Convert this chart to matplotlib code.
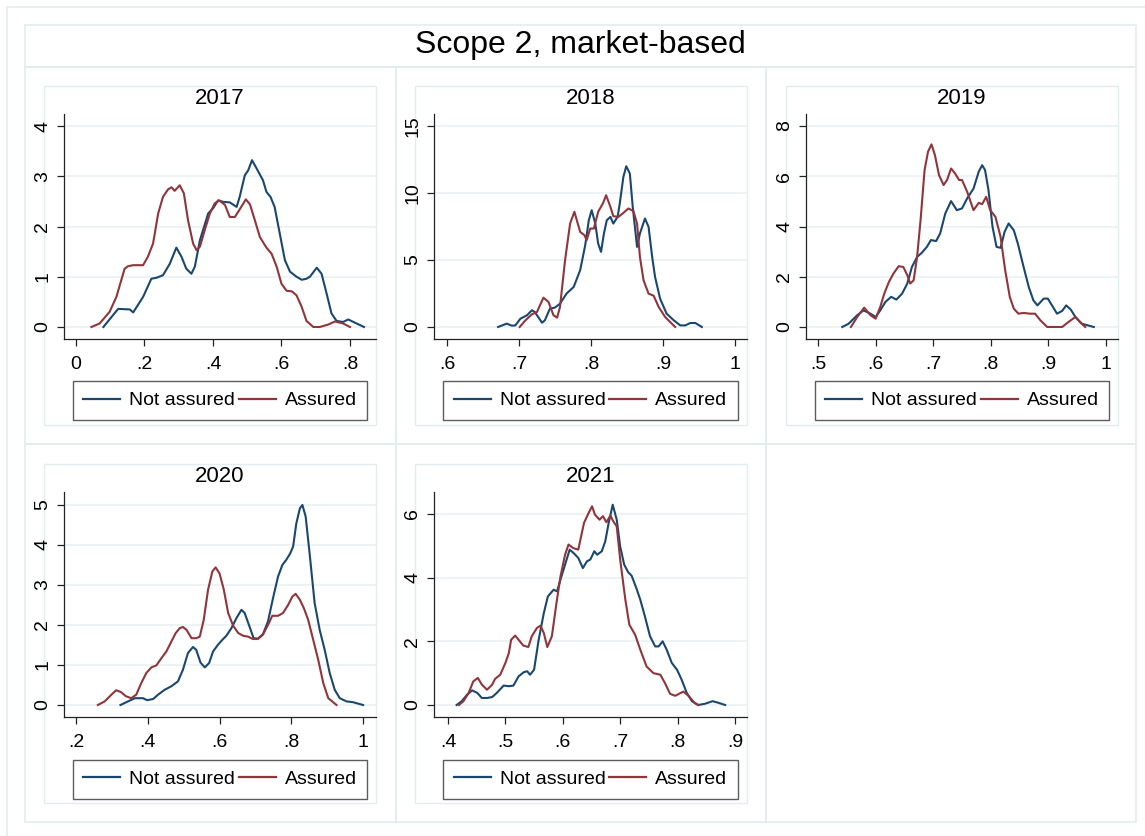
import matplotlib
matplotlib.use("Agg")
import matplotlib.pyplot as plt
from matplotlib.patches import Rectangle
from matplotlib.lines import Line2D
from matplotlib.ticker import FuncFormatter

plt.rcParams['font.family'] = ['Liberation Sans', 'DejaVu Sans']

# ---------------- data ----------------
title = "Scope 2, market-based"
years = [2017, 2018, 2019, 2020, 2021]
series_labels = ["Not assured", "Assured"]

na_2017_x = [0.080, 0.123, 0.157, 0.167, 0.196, 0.220, 0.235, 0.254, 0.274, 0.293, 0.308, 0.322, 0.337, 0.347,
             0.362, 0.386, 0.400, 0.415, 0.430, 0.449, 0.469, 0.478, 0.493, 0.503, 0.514, 0.527, 0.546, 0.556,
             0.568, 0.580, 0.595, 0.610, 0.625, 0.644, 0.659, 0.673, 0.683, 0.703, 0.717, 0.732, 0.746, 0.761,
             0.780, 0.795, 0.810, 0.841]
na_2017_y = [0.00, 0.36, 0.35, 0.29, 0.60, 0.96, 0.98, 1.03, 1.26, 1.58, 1.40, 1.16, 1.06, 1.20,
             1.73, 2.26, 2.36, 2.52, 2.49, 2.48, 2.39, 2.59, 3.02, 3.12, 3.32, 3.16, 2.92, 2.69,
             2.59, 2.39, 1.86, 1.33, 1.10, 1.00, 0.94, 0.96, 1.00, 1.18, 1.06, 0.66, 0.27, 0.12,
             0.10, 0.15, 0.10, 0.00]
as_2017_x = [0.045, 0.069, 0.098, 0.118, 0.142, 0.152, 0.167, 0.196, 0.210, 0.225, 0.240, 0.254, 0.269, 0.279,
             0.288, 0.303, 0.315, 0.327, 0.342, 0.352, 0.362, 0.376, 0.391, 0.405, 0.418, 0.435, 0.449, 0.464,
             0.478, 0.496, 0.508, 0.522, 0.537, 0.556, 0.571, 0.586, 0.600, 0.615, 0.630, 0.644, 0.659, 0.673,
             0.693, 0.712, 0.737, 0.756, 0.780, 0.800]
as_2017_y = [0.00, 0.07, 0.30, 0.60, 1.16, 1.21, 1.23, 1.23, 1.40, 1.66, 2.26, 2.59, 2.74, 2.78,
             2.71, 2.82, 2.66, 2.13, 1.66, 1.53, 1.60, 1.93, 2.26, 2.46, 2.52, 2.43, 2.19, 2.19,
             2.34, 2.54, 2.44, 2.13, 1.79, 1.58, 1.46, 1.20, 0.86, 0.72, 0.71, 0.63, 0.40, 0.12,
             0.00, 0.00, 0.05, 0.11, 0.07, 0.00]

na_2018_x = [0.671, 0.683, 0.690, 0.695, 0.702, 0.711, 0.718, 0.722, 0.732, 0.736, 0.743, 0.750, 0.757, 0.766,
             0.776, 0.785, 0.792, 0.797, 0.801, 0.806, 0.810, 0.814, 0.818, 0.822, 0.827, 0.831, 0.837, 0.840,
             0.845, 0.849, 0.854, 0.858, 0.864, 0.868, 0.875, 0.880, 0.885, 0.889, 0.896, 0.905, 0.915, 0.924,
             0.931, 0.938, 0.945, 0.954]
na_2018_y = [0.00, 0.25, 0.10, 0.12, 0.62, 0.87, 1.25, 1.12, 0.32, 0.50, 1.37, 1.45, 1.74, 2.49,
             2.99, 4.24, 6.10, 7.97, 8.72, 7.72, 6.23, 5.61, 6.98, 7.97, 8.22, 7.72, 8.22, 9.22,
             11.20, 12.00, 11.46, 8.97, 5.98, 6.98, 8.10, 7.47, 5.23, 3.74, 2.12, 1.00, 0.50, 0.12,
             0.12, 0.30, 0.30, 0.00]
as_2018_x = [0.701, 0.709, 0.718, 0.725, 0.734, 0.741, 0.748, 0.753, 0.757, 0.764, 0.771, 0.777, 0.785, 0.791,
             0.794, 0.799, 0.804, 0.810, 0.817, 0.821, 0.827, 0.831, 0.838, 0.844, 0.852, 0.859, 0.864, 0.868,
             0.873, 0.880, 0.887, 0.894, 0.903, 0.910, 0.917]
as_2018_y = [0.00, 0.50, 0.95, 1.12, 2.19, 1.87, 0.87, 0.70, 1.50, 4.98, 7.72, 8.60, 7.10, 6.85,
             6.48, 7.35, 7.35, 8.60, 9.27, 9.84, 8.97, 8.27, 8.22, 8.47, 8.85, 8.65, 7.72, 5.23,
             3.49, 2.49, 2.34, 1.50, 0.75, 0.37, 0.00]

na_2019_x = [0.542, 0.553, 0.568, 0.579, 0.591, 0.600, 0.608, 0.617, 0.627, 0.636, 0.646, 0.655, 0.663, 0.672,
             0.680, 0.689, 0.696, 0.705, 0.712, 0.721, 0.731, 0.741, 0.750, 0.759, 0.770, 0.779, 0.785, 0.790,
             0.796, 0.803, 0.810, 0.817, 0.824, 0.831, 0.840, 0.847, 0.857, 0.866, 0.874, 0.881, 0.892, 0.899,
             0.908, 0.915, 0.924, 0.931, 0.939, 0.947, 0.958, 0.979]
na_2019_y = [0.00, 0.13, 0.47, 0.66, 0.53, 0.40, 0.66, 1.00, 1.20, 1.09, 1.33, 1.73, 2.39, 2.79,
             2.95, 3.19, 3.46, 3.42, 3.72, 4.52, 5.01, 4.65, 4.72, 5.12, 5.51, 6.18, 6.44, 6.25,
             5.45, 3.99, 3.19, 3.15, 3.79, 4.12, 3.85, 3.32, 2.39, 1.59, 1.06, 0.86, 1.13, 1.13,
             0.80, 0.53, 0.64, 0.86, 0.69, 0.40, 0.13, 0.00]
as_2019_x = [0.557, 0.568, 0.580, 0.591, 0.600, 0.608, 0.615, 0.623, 0.631, 0.640, 0.648, 0.655, 0.660, 0.666,
             0.672, 0.678, 0.685, 0.691, 0.697, 0.703, 0.710, 0.718, 0.724, 0.731, 0.738, 0.745, 0.750, 0.759,
             0.770, 0.779, 0.785, 0.792, 0.799, 0.808, 0.817, 0.825, 0.833, 0.840, 0.848, 0.857, 0.868, 0.877,
             0.886, 0.898, 0.909, 0.924, 0.935, 0.947, 0.955, 0.964]
as_2019_y = [0.00, 0.40, 0.77, 0.47, 0.33, 0.80, 1.33, 1.79, 2.13, 2.42, 2.39, 2.06, 1.73, 1.86,
             2.79, 4.25, 6.25, 6.98, 7.27, 6.84, 6.05, 5.65, 5.85, 6.31, 6.11, 5.85, 5.85, 5.38,
             4.65, 4.94, 4.89, 5.18, 4.65, 4.39, 3.59, 2.26, 1.20, 0.73, 0.53, 0.56, 0.53, 0.53,
             0.27, 0.00, 0.00, 0.00, 0.20, 0.40, 0.20, 0.00]

na_2020_x = [0.324, 0.345, 0.364, 0.387, 0.398, 0.415, 0.429, 0.447, 0.466, 0.484, 0.498, 0.512, 0.526, 0.535,
             0.547, 0.559, 0.571, 0.582, 0.596, 0.608, 0.619, 0.633, 0.647, 0.661, 0.670, 0.682, 0.695, 0.707,
             0.721, 0.735, 0.749, 0.763, 0.775, 0.786, 0.797, 0.805, 0.814, 0.824, 0.831, 0.840, 0.851, 0.865,
             0.879, 0.893, 0.907, 0.921, 0.935, 0.954, 0.972, 1.000]
na_2020_y = [0.00, 0.09, 0.17, 0.17, 0.12, 0.15, 0.26, 0.38, 0.47, 0.59, 0.88, 1.30, 1.45, 1.38,
             1.06, 0.94, 1.05, 1.34, 1.51, 1.63, 1.73, 1.92, 2.17, 2.38, 2.30, 2.00, 1.67, 1.66,
             1.77, 2.09, 2.67, 3.21, 3.50, 3.63, 3.79, 3.96, 4.54, 4.92, 5.00, 4.71, 3.79, 2.55,
             1.88, 1.38, 0.80, 0.38, 0.17, 0.09, 0.07, 0.00]
as_2020_x = [0.261, 0.280, 0.299, 0.312, 0.326, 0.339, 0.354, 0.368, 0.382, 0.396, 0.410, 0.424, 0.438, 0.452,
             0.466, 0.478, 0.489, 0.498, 0.508, 0.522, 0.535, 0.545, 0.556, 0.568, 0.580, 0.589, 0.600, 0.612,
             0.624, 0.638, 0.652, 0.666, 0.679, 0.693, 0.707, 0.721, 0.735, 0.747, 0.763, 0.777, 0.791, 0.803,
             0.812, 0.824, 0.835, 0.847, 0.861, 0.875, 0.889, 0.903, 0.926]
as_2020_y = [0.00, 0.09, 0.26, 0.37, 0.32, 0.22, 0.17, 0.26, 0.55, 0.80, 0.94, 0.99, 1.17, 1.34,
             1.59, 1.80, 1.92, 1.95, 1.88, 1.67, 1.67, 1.71, 2.13, 2.88, 3.34, 3.44, 3.29, 2.88,
             2.30, 1.98, 1.80, 1.73, 1.71, 1.65, 1.65, 1.76, 2.00, 2.23, 2.23, 2.30, 2.50, 2.71,
             2.78, 2.63, 2.42, 2.13, 1.63, 1.13, 0.55, 0.17, 0.00]

na_2021_x = [0.415, 0.424, 0.433, 0.442, 0.451, 0.459, 0.468, 0.477, 0.485, 0.497, 0.506, 0.514, 0.523, 0.532,
             0.538, 0.543, 0.550, 0.558, 0.567, 0.574, 0.584, 0.590, 0.596, 0.604, 0.612, 0.619, 0.627, 0.635,
             0.642, 0.648, 0.655, 0.660, 0.668, 0.674, 0.680, 0.687, 0.694, 0.700, 0.707, 0.714, 0.720, 0.728,
             0.735, 0.743, 0.752, 0.761, 0.767, 0.774, 0.781, 0.790, 0.799, 0.807, 0.816, 0.825, 0.836, 0.848,
             0.861, 0.871, 0.883]
na_2021_y = [0.00, 0.12, 0.32, 0.46, 0.38, 0.22, 0.22, 0.25, 0.38, 0.61, 0.59, 0.61, 0.90, 1.03,
             1.06, 0.95, 1.11, 2.05, 2.89, 3.41, 3.62, 3.57, 3.94, 4.41, 4.88, 4.77, 4.62, 4.30,
             4.51, 4.57, 4.83, 4.72, 4.83, 5.14, 5.72, 6.29, 5.82, 4.98, 4.41, 4.17, 4.06, 3.68,
             3.31, 2.79, 2.16, 1.84, 1.84, 2.00, 1.74, 1.32, 1.11, 0.80, 0.38, 0.12, 0.00, 0.04,
             0.12, 0.07, 0.00]
as_2021_x = [0.419, 0.427, 0.436, 0.444, 0.452, 0.459, 0.468, 0.477, 0.482, 0.491, 0.500, 0.506, 0.510, 0.517,
             0.523, 0.531, 0.540, 0.546, 0.555, 0.561, 0.567, 0.573, 0.581, 0.589, 0.596, 0.604, 0.610, 0.618,
             0.627, 0.637, 0.645, 0.651, 0.656, 0.664, 0.670, 0.676, 0.683, 0.688, 0.694, 0.700, 0.709, 0.716,
             0.726, 0.735, 0.746, 0.758, 0.770, 0.778, 0.787, 0.796, 0.810, 0.819, 0.830, 0.836]
as_2021_y = [0.00, 0.12, 0.38, 0.74, 0.85, 0.64, 0.48, 0.64, 0.82, 0.95, 1.32, 1.63, 2.05, 2.18,
             2.05, 1.87, 1.82, 2.16, 2.42, 2.49, 2.26, 1.82, 2.16, 3.20, 4.04, 4.72, 5.04, 4.93,
             4.88, 5.72, 6.03, 6.24, 5.98, 5.82, 5.93, 5.74, 5.95, 5.77, 5.61, 4.57, 3.31, 2.52,
             2.21, 1.74, 1.21, 1.00, 0.95, 0.69, 0.35, 0.29, 0.42, 0.29, 0.06, 0.00]

x_ticks = {2017: [0, 0.2, 0.4, 0.6, 0.8],
           2018: [0.6, 0.7, 0.8, 0.9, 1.0],
           2019: [0.5, 0.6, 0.7, 0.8, 0.9, 1.0],
           2020: [0.2, 0.4, 0.6, 0.8, 1.0],
           2021: [0.4, 0.5, 0.6, 0.7, 0.8, 0.9]}
y_ticks = {2017: [0, 1, 2, 3, 4],
           2018: [0, 5, 10, 15],
           2019: [0, 2, 4, 6, 8],
           2020: [0, 1, 2, 3, 4, 5],
           2021: [0, 2, 4, 6]}

curves = {2017: (na_2017_x, na_2017_y, as_2017_x, as_2017_y),
          2018: (na_2018_x, na_2018_y, as_2018_x, as_2018_y),
          2019: (na_2019_x, na_2019_y, as_2019_x, as_2019_y),
          2020: (na_2020_x, na_2020_y, as_2020_x, as_2020_y),
          2021: (na_2021_x, na_2021_y, as_2021_x, as_2021_y)}

# ---------------- layout / style ----------------
W, H = 1145, 836
BLUE = '#1a476f'
RED = '#90353b'
FRAME = '#e3ecef'
GRID = '#e8f0f2'
AXC = '#222222'

# axes pixel boxes: left, top, right, bottom
ax_px = {2017: (64, 114, 376, 339), 2018: (434, 114, 747, 339), 2019: (806, 114, 1118, 339),
         2020: (64, 492, 376, 717), 2021: (434, 492, 747, 717)}
lims = {2017: ((-0.035, 0.876), (-0.239, 4.239)),
        2018: ((0.582, 1.0167), (-0.896, 15.9)),
        2019: ((0.479, 1.021), (-0.478, 8.478)),
        2020: ((0.1666, 1.036), (-0.30, 5.325)),
        2021: ((0.3756, 0.921), (-0.377, 6.69))}
inner_px = {2017: (44, 86, 376, 425), 2018: (415, 86, 747, 425), 2019: (786, 86, 1118, 425),
            2020: (44, 464, 376, 803), 2021: (415, 464, 747, 803)}

fig = plt.figure(figsize=(W / 100, H / 100), dpi=100)
fig.patch.set_facecolor('white')

bg = fig.add_axes([0, 0, 1, 1])
bg.set_xlim(0, W)
bg.set_ylim(H, 0)
bg.axis('off')

# outer frame (left & top visible)
bg.plot([7, 7], [7, H], color=FRAME, lw=1.2)
bg.plot([7, W], [7, 7], color=FRAME, lw=1.2)
# title box
bg.add_patch(Rectangle((25, 25), 1136 - 25, 67 - 25, fill=False, ec=FRAME, lw=1.2))
# panel cells
cols = [25, 396, 766, 1136]
rows = [67, 444, 822]
for r in range(2):
    for c in range(3):
        bg.add_patch(Rectangle((cols[c], rows[r]), cols[c + 1] - cols[c], rows[r + 1] - rows[r],
                               fill=False, ec=FRAME, lw=1.2))
for yr, (l, t, r_, b) in inner_px.items():
    bg.add_patch(Rectangle((l, t), r_ - l, b - t, fill=False, ec=FRAME, lw=1.0))

fig.text(580 / W, 1 - 45 / H, title, ha='center', va='center', fontsize=23, color='black')


def stata_fmt(v, pos=None):
    v = round(v, 4)
    s = f"{v:g}"
    if s.startswith("0."):
        s = s[1:]
    return s


for yr in years:
    l, t, r_, b = ax_px[yr]
    ax = fig.add_axes([l / W, 1 - b / H, (r_ - l) / W, (b - t) / H])
    ax.set_facecolor('none')
    nx, ny, axx, ayy = curves[yr]
    ax.plot(nx, ny, color=BLUE, lw=1.5, solid_joinstyle='round', label=series_labels[0])
    ax.plot(axx, ayy, color=RED, lw=1.5, solid_joinstyle='round', label=series_labels[1])
    ax.set_xlim(*lims[yr][0])
    ax.set_ylim(*lims[yr][1])
    ax.set_xticks(x_ticks[yr])
    ax.set_yticks(y_ticks[yr])
    ax.xaxis.set_major_formatter(FuncFormatter(stata_fmt))
    ax.yaxis.set_major_formatter(FuncFormatter(stata_fmt))
    for yt in y_ticks[yr]:
        ax.axhline(yt, color=GRID, lw=1.1, zorder=0)
    for s in ['top', 'right']:
        ax.spines[s].set_visible(False)
    for s in ['left', 'bottom']:
        ax.spines[s].set_color(AXC)
        ax.spines[s].set_linewidth(0.9)
    ax.tick_params(axis='both', direction='out', length=5, width=0.9, color=AXC,
                   labelsize=14, labelcolor='black')
    ax.tick_params(axis='x', pad=7)
    ax.tick_params(axis='y', pad=4, labelrotation=90)
    for lab in ax.get_yticklabels():
        lab.set_va('center')
    cx = (l + r_) / 2
    fig.text(cx / W, 1 - (t - 15) / H, str(yr), ha='center', va='center', fontsize=16, color='black')
    leg_y = 400.5 if t < 400 else 779
    handles = [Line2D([], [], color=BLUE, lw=1.6), Line2D([], [], color=RED, lw=1.6)]
    leg = ax.legend(handles, series_labels, loc='center', ncol=2,
                    bbox_to_anchor=(cx / W, 1 - leg_y / H), bbox_transform=fig.transFigure,
                    fontsize=14, handlelength=1.9, handletextpad=0.45, columnspacing=0.2,
                    borderpad=0.55, fancybox=False, frameon=True)
    leg.get_frame().set_edgecolor('#333333')
    leg.get_frame().set_linewidth(1.0)

fig.savefig('out.png', dpi=100, facecolor='white')
